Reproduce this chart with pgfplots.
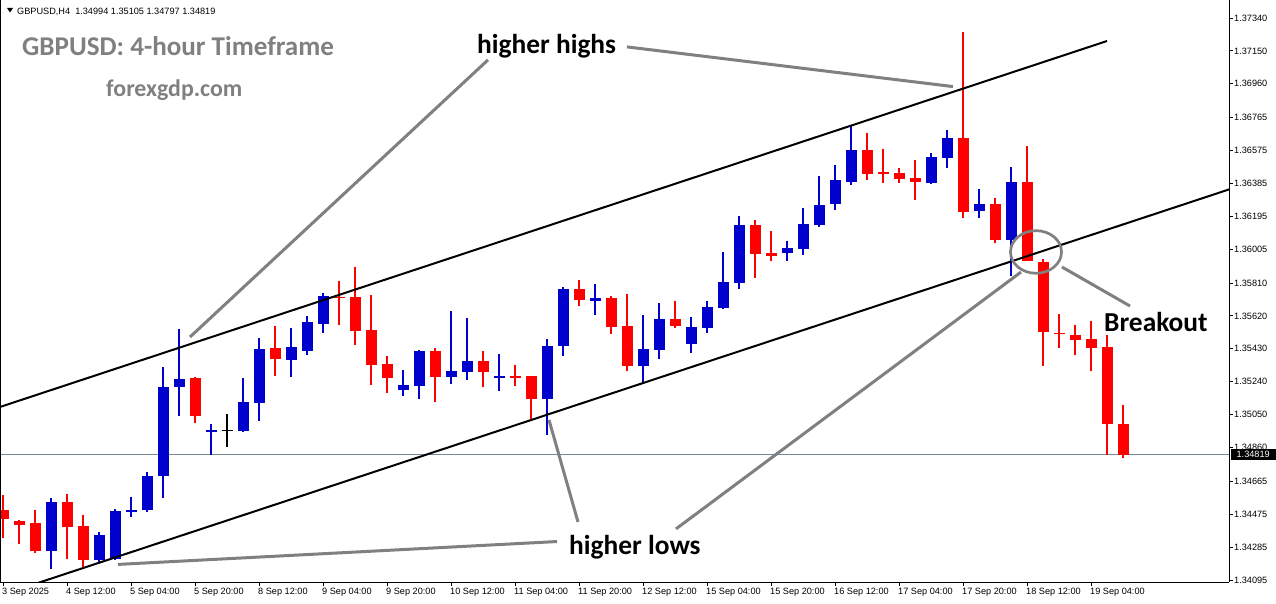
\documentclass[border=0pt]{standalone}
\usepackage{pgfplots}
\pgfplotsset{compat=1.18}
\usepackage{pgfplotstable}
\usepackage{fontspec}
\setmainfont{Liberation Sans}
\newfontfamily\annot{Carlito}
\definecolor{bullc}{RGB}{0,0,205}
\definecolor{bearc}{RGB}{255,0,0}
\definecolor{annc}{RGB}{128,128,128}
\definecolor{pricec}{RGB}{119,136,153}

\pgfplotstableread{
i o h l c
3 1.34264 1.34568 1.34160 1.34545
6 1.34212 1.34372 1.34201 1.34355
7 1.34218 1.34503 1.34213 1.34493
8 1.34489 1.34572 1.34460 1.34501
9 1.34501 1.34719 1.34489 1.34695
10 1.34697 1.35325 1.34570 1.35209
11 1.35211 1.35544 1.35044 1.35256
13 1.34950 1.34996 1.34817 1.34961
15 1.34957 1.35261 1.34950 1.35123
16 1.35119 1.35492 1.35015 1.35429
18 1.35367 1.35550 1.35269 1.35440
19 1.35419 1.35619 1.35396 1.35585
20 1.35575 1.35754 1.35523 1.35735
25 1.35194 1.35308 1.35159 1.35221
26 1.35217 1.35423 1.35142 1.35417
28 1.35269 1.35648 1.35228 1.35302
29 1.35298 1.35608 1.35252 1.35360
31 1.35263 1.35400 1.35188 1.35273
34 1.35142 1.35487 1.34934 1.35446
35 1.35448 1.35787 1.35390 1.35775
37 1.35708 1.35804 1.35627 1.35723
40 1.35332 1.35625 1.35234 1.35429
41 1.35425 1.35694 1.35373 1.35602
43 1.35459 1.35614 1.35408 1.35556
44 1.35552 1.35706 1.35523 1.35671
45 1.35667 1.35989 1.35658 1.35816
46 1.35812 1.36197 1.35777 1.36145
49 1.35985 1.36052 1.35939 1.36012
50 1.36008 1.36243 1.35973 1.36151
51 1.36146 1.36428 1.36135 1.36260
52 1.36268 1.36491 1.36233 1.36405
53 1.36395 1.36722 1.36377 1.36578
58 1.36389 1.36561 1.36383 1.36537
59 1.36533 1.36693 1.36476 1.36647
61 1.36227 1.36353 1.36187 1.36266
63 1.36060 1.36480 1.35852 1.36393
}\bull

\pgfplotstableread{
i o h l c
0 1.34499 1.34586 1.34339 1.34449
1 1.34436 1.34441 1.34303 1.34414
2 1.34424 1.34499 1.34253 1.34264
4 1.34545 1.34592 1.34218 1.34403
5 1.34407 1.34470 1.34166 1.34212
12 1.35261 1.35267 1.35003 1.35044
17 1.35435 1.35562 1.35273 1.35373
21 1.35729 1.35821 1.35569 1.35725
22 1.35729 1.35904 1.35454 1.35534
23 1.35538 1.35741 1.35223 1.35338
24 1.35342 1.35388 1.35176 1.35263
27 1.35417 1.35433 1.35125 1.35269
30 1.35360 1.35417 1.35211 1.35298
32 1.35273 1.35336 1.35217 1.35263
33 1.35273 1.35273 1.35021 1.35142
36 1.35775 1.35827 1.35679 1.35713
38 1.35723 1.35737 1.35517 1.35558
39 1.35562 1.35748 1.35303 1.35332
42 1.35602 1.35706 1.35552 1.35563
47 1.36145 1.36174 1.35840 1.35979
48 1.35983 1.36110 1.35939 1.35967
54 1.36578 1.36676 1.36406 1.36441
55 1.36453 1.36584 1.36389 1.36441
56 1.36447 1.36476 1.36389 1.36412
57 1.36416 1.36520 1.36291 1.36395
60 1.36647 1.37259 1.36187 1.36222
62 1.36266 1.36301 1.36043 1.36060
64 1.36393 1.36603 1.35939 1.35939
65 1.35933 1.35950 1.35332 1.35525
66 1.35521 1.35633 1.35436 1.35519
67 1.35508 1.35569 1.35396 1.35483
68 1.35485 1.35592 1.35303 1.35436
69 1.35439 1.35508 1.34818 1.34994
70 1.34994 1.35105 1.34797 1.34819
}\bear

\pgfplotstableread{
i o h l c
14 1.34959 1.35053 1.34865 1.34959
}\doji

\pgfplotsset{
  candle/.style 2 args={only marks, mark size=0pt, mark options={draw=none, fill=none}, forget plot,
    error bars/.cd, y dir=plus, y explicit, error mark=none,
    error bar style={draw=#1, line width=#2}},
}

\begin{document}
\begin{tikzpicture}
\useasboundingbox (0,0) rectangle (1276bp,604bp);
\begin{axis}[
  at={(0,22bp)}, anchor=south west,
  width=1229bp, height=582bp, scale only axis,
  xmin=-0.1875, xmax=76.625, ymin=1.340834, ymax=1.374439,
  axis x line*=bottom, axis y line*=right,
  axis line style={line width=1bp, black},
  tick align=outside, major tick length=4bp,
  tick style={line width=0.8bp, black},
  scaled y ticks=false,
  xtick={0,4,...,68},
  xticklabels={3 Sep 2025,4 Sep 12:00,5 Sep 04:00,5 Sep 20:00,8 Sep 12:00,9 Sep 04:00,9 Sep 20:00,10 Sep 12:00,11 Sep 04:00,11 Sep 20:00,12 Sep 12:00,15 Sep 04:00,15 Sep 20:00,16 Sep 12:00,17 Sep 04:00,17 Sep 20:00,18 Sep 12:00,19 Sep 04:00},
  xticklabel style={font=\fontsize{9.2}{10}\selectfont, anchor=north west, inner sep=0pt, xshift=-1bp, yshift=-2bp},
  ytick={1.37340,1.37150,1.36960,1.36765,1.36575,1.36385,1.36195,1.36005,1.35810,1.35620,1.35430,1.35240,1.35050,1.34860,1.34665,1.34475,1.34285,1.34095},
  yticklabels={1.37340,1.37150,1.36960,1.36765,1.36575,1.36385,1.36195,1.36005,1.35810,1.35620,1.35430,1.35240,1.35050,1.34860,1.34665,1.34475,1.34285,1.34095},
  yticklabel style={font=\fontsize{9.2}{10}\selectfont, anchor=west, inner sep=0pt, xshift=1bp},
  clip mode=individual,
]
% current price line
\addplot[pricec, line width=0.8bp, forget plot] coordinates {(-0.1875,1.34819) (76.625,1.34819)};

% wicks
\addplot[candle={bullc}{1.2bp}] table[x=i, y=l, y error plus expr=\thisrow{h}-\thisrow{l}] {\bull};
\addplot[candle={bearc}{1.2bp}] table[x=i, y=l, y error plus expr=\thisrow{h}-\thisrow{l}] {\bear};
\addplot[candle={black}{1.2bp}] table[x=i, y=l, y error plus expr=\thisrow{h}-\thisrow{l}] {\doji};
% bodies
\addplot[candle={bullc}{11bp}] table[x=i, y expr={min(\thisrow{o},\thisrow{c})}, y error plus expr={max(abs(\thisrow{c}-\thisrow{o}),0.00004)}] {\bull};
\addplot[candle={bearc}{11bp}] table[x=i, y expr={min(\thisrow{o},\thisrow{c})}, y error plus expr={max(abs(\thisrow{c}-\thisrow{o}),0.00004)}] {\bear};
\addplot[candle={black}{11bp}] table[x=i, y expr={min(\thisrow{o},\thisrow{c})}, y error plus expr={max(abs(\thisrow{c}-\thisrow{o}),0.00004)}] {\doji};

% channel lines
\addplot[black, line width=2bp, forget plot] coordinates {(-0.1875,1.35094) (69,1.37207)};
\addplot[black, line width=2bp, forget plot] coordinates {(2.1875,1.34078) (76.625,1.36350)};

% annotation lines
\addplot[annc, line width=3bp, forget plot] coordinates {(30.3125,1.37098) (11.6875,1.35498)};
\addplot[annc, line width=3bp, forget plot] coordinates {(39,1.37173) (59.375,1.36944)};
\addplot[annc, line width=3bp, forget plot] coordinates {(34.125,1.35019) (35.9375,1.34430)};
\addplot[annc, line width=3bp, forget plot] coordinates {(42.0625,1.34390) (63.625,1.35873)};
\addplot[annc, line width=3bp, forget plot] coordinates {(34.625,1.34317) (7.1875,1.34185)};
\addplot[annc, line width=3bp, forget plot] coordinates {(66.1875,1.35902) (70.4375,1.35677)};
\draw[annc, line width=2.7bp] (axis cs:64.5625,1.35989) ellipse [x radius=25.5bp, y radius=21.3bp];

% left border
\draw[black, line width=1bp] (rel axis cs:0,0) -- (rel axis cs:0,1);

% header
\fill[black] (axis cs:0.25,1.37398) -- (axis cs:0.625,1.37398) -- (axis cs:0.4375,1.37372) -- cycle;
\node[anchor=base west, inner sep=0pt, font=\fontsize{9.2}{11}\selectfont] at (axis cs:0.875,1.37363) {GBPUSD,H4\ \ 1.34994 1.35105 1.34797 1.34819};

% texts
\node[anchor=base west, inner sep=0pt, text=annc, font=\annot\bfseries\fontsize{27.2}{30}\selectfont] at (axis cs:1.1875,1.37126) {GBPUSD: 4-hour Timeframe};
\node[anchor=base west, inner sep=0pt, text=annc, font=\annot\bfseries\fontsize{24}{28}\selectfont] at (axis cs:6.4375,1.36884) {forexgdp.com};
\node[anchor=base west, inner sep=0pt, text=black, font=\annot\bfseries\fontsize{27.5}{30}\selectfont] at (axis cs:29.625,1.37136) {higher highs};
\node[anchor=base west, inner sep=0pt, text=black, font=\annot\bfseries\fontsize{27.5}{30}\selectfont] at (axis cs:35.375,1.34243) {higher lows};
\node[anchor=base west, inner sep=0pt, text=black, font=\annot\bfseries\fontsize{27.5}{30}\selectfont] at (axis cs:68.8125,1.35529) {Breakout};

\coordinate (pricept) at (axis cs:76.625,1.34819);
\end{axis}
\node[anchor=west, fill=black, text=white, inner sep=0pt, minimum width=45bp, minimum height=11bp, xshift=1.5bp, font=\fontsize{9.2}{10}\selectfont] at (pricept) {1.34819};
\end{tikzpicture}
\end{document}
